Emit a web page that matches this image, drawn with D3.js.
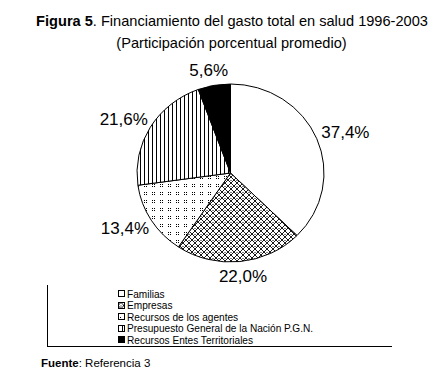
<!DOCTYPE html>
<html>
<head>
<meta charset="utf-8">
<script src="https://cdn.jsdelivr.net/npm/d3@7"></script>
<style>
  body { margin: 0; background: #fff; }
  text { font-family: "Liberation Sans", Arial, sans-serif; fill: #000; }
</style>
</head>
<body>
<svg id="chart"></svg>
<script>
const width = 441, height = 384;

// Data
const categories = ["Familias", "Empresas", "Recursos de los agentes", "Presupuesto General de la Nación P.G.N.", "Recursos Entes Territoriales"];
const shares = [37.4, 22.0, 13.4, 21.6, 5.6];
const fills = ["#fff", "url(#pat-cross)", "url(#pat-dots)", "url(#pat-vert)", "#000"];

// Pie geometry (slightly elliptical, as in the source)
const cx = 230.5, cy = 173, rx = 93.5, ry = 89;

const svg = d3.select("#chart")
    .attr("width", width)
    .attr("height", height)
    .attr("viewBox", [0, 0, width, height]);

const defs = svg.append("defs");

// crosshatch (Empresas)
const pc = defs.append("pattern").attr("id", "pat-cross")
    .attr("patternUnits", "userSpaceOnUse").attr("width", 6).attr("height", 6);
pc.append("rect").attr("width", 6).attr("height", 6).attr("fill", "#fff");
pc.append("path").attr("d", "M0,0L6,6M6,0L0,6").attr("stroke", "#000").attr("stroke-width", 0.9);
pc.append("rect").attr("x", 2.5).attr("y", 0).attr("width", 1).attr("height", 1).attr("fill", "#000");

// sparse dots (Recursos de los agentes)
const pd = defs.append("pattern").attr("id", "pat-dots")
    .attr("patternUnits", "userSpaceOnUse").attr("width", 8).attr("height", 8);
pd.append("rect").attr("width", 8).attr("height", 8).attr("fill", "#fff");
[[0, 0], [2, 0], [0, 2], [2, 2]].forEach(([x, y]) => {
    pd.append("rect").attr("x", x).attr("y", y).attr("width", 1).attr("height", 1).attr("fill", "#000");
});

// vertical lines (P.G.N.)
const pv = defs.append("pattern").attr("id", "pat-vert")
    .attr("patternUnits", "userSpaceOnUse").attr("width", 4).attr("height", 4);
pv.append("rect").attr("width", 4).attr("height", 4).attr("fill", "#fff");
pv.append("rect").attr("x", 0).attr("width", 1).attr("height", 4).attr("fill", "#000");

// Title
svg.append("text")
    .attr("x", 232).attr("y", 26)
    .attr("text-anchor", "middle")
    .style("font-size", "14.6px")
    .call(t => {
        t.append("tspan").style("font-weight", "bold").text("Figura 5");
        t.append("tspan").text(". Financiamiento del gasto total en salud 1996-2003");
    });
svg.append("text")
    .attr("x", 231.5).attr("y", 48)
    .attr("text-anchor", "middle")
    .style("font-size", "14.6px")
    .text("(Participación porcentual promedio)");

// Pie
const pie = d3.pie().sort(null).value(d => d);
const arcs = pie(shares);

function ellipseSlice(a) {
    const p0 = [cx + rx * Math.sin(a.startAngle), cy - ry * Math.cos(a.startAngle)];
    const p1 = [cx + rx * Math.sin(a.endAngle), cy - ry * Math.cos(a.endAngle)];
    const large = (a.endAngle - a.startAngle) > Math.PI ? 1 : 0;
    return `M${cx},${cy}L${p0[0]},${p0[1]}A${rx},${ry} 0 ${large} 1 ${p1[0]},${p1[1]}Z`;
}

svg.append("g").selectAll("path")
    .data(arcs)
    .join("path")
    .attr("d", ellipseSlice)
    .attr("fill", (d, i) => fills[i])
    .attr("stroke", "#000")
    .attr("stroke-width", 1);

// Labels outside the pie
const pad = 7, lw = 48, lh = 16;
svg.append("g").selectAll("text")
    .data(arcs)
    .join("text")
    .attr("x", d => {
        const m = (d.startAngle + d.endAngle) / 2;
        return cx + (rx + pad) * Math.sin(m) + lw / 2 * Math.sin(m);
    })
    .attr("y", d => {
        const m = (d.startAngle + d.endAngle) / 2;
        return cy - (ry + pad) * Math.cos(m) - lh / 2 * Math.cos(m);
    })
    .attr("text-anchor", "middle")
    .attr("dominant-baseline", "central")
    .style("font-size", "17px")
    .text(d => d3.format(".1f")(d.data).replace(".", ",") + "%");

// Legend box (left and bottom border only)
svg.append("path")
    .attr("d", "M47.5,285V346.5H392")
    .attr("fill", "none")
    .attr("stroke", "#000")
    .attr("stroke-width", 1)
    .attr("shape-rendering", "crispEdges");

const legendY = d3.scalePoint().domain(categories).range([294, 340]);
const leg = svg.append("g").selectAll("g")
    .data(categories)
    .join("g")
    .attr("transform", d => `translate(118,${legendY(d)})`);
leg.append("rect")
    .attr("x", 0.5).attr("y", -3.5)
    .attr("width", 6).attr("height", 6)
    .attr("fill", (d, i) => fills[i])
    .attr("stroke", "#000")
    .attr("stroke-width", 1)
    .attr("shape-rendering", "crispEdges");
leg.append("text")
    .attr("x", 9).attr("y", 0)
    .attr("dominant-baseline", "central")
    .style("font-size", "10.1px")
    .text(d => d);

// Source
svg.append("text")
    .attr("x", 41).attr("y", 367)
    .style("font-size", "11.5px")
    .call(t => {
        t.append("tspan").style("font-weight", "bold").text("Fuente");
        t.append("tspan").text(": Referencia 3");
    });
</script>
</body>
</html>
